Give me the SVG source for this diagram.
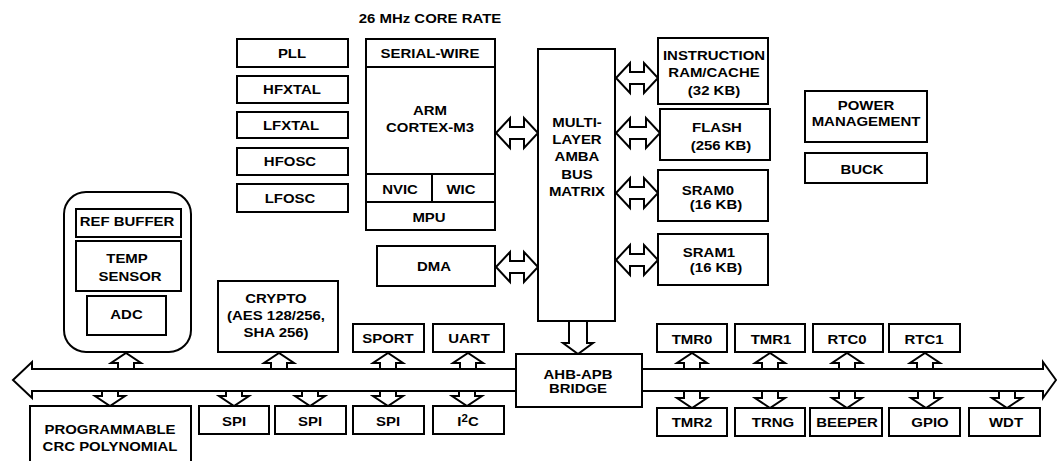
<svg xmlns="http://www.w3.org/2000/svg" width="1057" height="461" viewBox="0 0 1057 461">
<style>
.b{fill:#fff;stroke:#000;stroke-width:2}
.c{fill:#fff;stroke:#000;stroke-width:2;stroke-linejoin:miter}
.o{fill:none;stroke:#000;stroke-width:2;stroke-linejoin:miter}
.t{font-family:"Liberation Sans",Arial,Helvetica,sans-serif;font-weight:bold;font-size:13px;text-anchor:middle;fill:#000}
</style>
<rect x="0" y="0" width="1057" height="461" fill="#fff"/>
<text class="t" transform="translate(430,23) scale(1.15,1)">26 MHz CORE RATE</text>

<g id="connectors">
  <path class="c" d="M496,133 L510,118 L510,127 L524,127 L524,118 L538,133 L524,148 L524,139 L510,139 L510,148 Z"/>
  <path class="c" d="M496,267 L510,252 L510,261 L524,261 L524,252 L538,267 L524,282 L524,273 L510,273 L510,282 Z"/>
  <path class="c" d="M616,78 L630,63 L630,72 L644,72 L644,63 L658,78 L644,93 L644,84 L630,84 L630,93 Z"/>
  <path class="c" d="M616,133 L630,118 L630,127 L646,127 L646,118 L660,133 L646,148 L646,139 L630,139 L630,148 Z"/>
  <path class="c" d="M616,193 L630,178 L630,187 L644,187 L644,178 L658,193 L644,208 L644,199 L630,199 L630,208 Z"/>
  <path class="c" d="M616,260 L630,245 L630,254 L644,254 L644,245 L658,260 L644,275 L644,266 L630,266 L630,275 Z"/>
  <path class="o" d="M569,322 L569,343 L563,343 L578,354 L593,343 L587,343 L587,322"/>
  <!-- bus -->
  <path class="o" d="M516,369 L32,369 L32,362 L13,380 L32,398 L32,391 L516,391"/>
  <path class="o" d="M642,369 L1043,369 L1043,362 L1056,380 L1043,398 L1043,391 L642,391"/>
  <!-- up arrows -->
  <path class="o" d="M118,369 L118,363 L111,363 L126,353 L141,363 L134,363 L134,369"/>
  <path class="o" d="M271,369 L271,363 L264,363 L279,353 L294,363 L287,363 L287,369"/>
  <path class="o" d="M380,369 L380,363 L373,363 L388,353 L403,363 L396,363 L396,369"/>
  <path class="o" d="M460,369 L460,363 L453,363 L468,353 L483,363 L476,363 L476,369"/>
  <path class="o" d="M684,369 L684,363 L677,363 L692,353 L707,363 L700,363 L700,369"/>
  <path class="o" d="M762,369 L762,363 L755,363 L770,353 L785,363 L778,363 L778,369"/>
  <path class="o" d="M839,369 L839,363 L832,363 L847,353 L862,363 L855,363 L855,369"/>
  <path class="o" d="M917,369 L917,363 L910,363 L925,353 L940,363 L933,363 L933,369"/>
  <!-- down arrows -->
  <path class="o" d="M102,391 L102,396 L95,396 L110,406 L125,396 L118,396 L118,391"/>
  <path class="o" d="M226,391 L226,396 L219,396 L234,406 L249,396 L242,396 L242,391"/>
  <path class="o" d="M302,391 L302,396 L295,396 L310,406 L325,396 L318,396 L318,391"/>
  <path class="o" d="M380,391 L380,396 L373,396 L388,406 L403,396 L396,396 L396,391"/>
  <path class="o" d="M459,391 L459,396 L452,396 L467,406 L482,396 L475,396 L475,391"/>
  <path class="o" d="M684,391 L684,398 L677,398 L692,408 L707,398 L700,398 L700,391"/>
  <path class="o" d="M762,391 L762,398 L755,398 L770,408 L785,398 L778,398 L778,391"/>
  <path class="o" d="M839,391 L839,398 L832,398 L847,408 L862,398 L855,398 L855,391"/>
  <path class="o" d="M918,391 L918,398 L911,398 L926,408 L941,398 L934,398 L934,391"/>
  <path class="o" d="M999,391 L999,398 L992,398 L1007,408 L1022,398 L1015,398 L1015,391"/>
</g>

<g id="pll"><rect class="b" x="237" y="39" width="111" height="28"/><text class="t" transform="translate(292,57.5) scale(1.15,1)">PLL</text></g>
<g id="hfxtal"><rect class="b" x="237" y="76" width="111" height="27"/><text class="t" transform="translate(292,94) scale(1.15,1)">HFXTAL</text></g>
<g id="lfxtal"><rect class="b" x="237" y="112" width="111" height="26"/><text class="t" transform="translate(291,129.5) scale(1.15,1)">LFXTAL</text></g>
<g id="hfosc"><rect class="b" x="237" y="148" width="111" height="27"/><text class="t" transform="translate(290,166) scale(1.15,1)">HFOSC</text></g>
<g id="lfosc"><rect class="b" x="237" y="184" width="111" height="28"/><text class="t" transform="translate(290,202.5) scale(1.15,1)">LFOSC</text></g>

<g id="arm">
  <rect class="b" x="366" y="39" width="129" height="191"/>
  <path class="o" d="M366,67 H495 M366,174 H495 M366,202 H495 M432,174 V202"/>
  <text class="t" transform="translate(430,57.5) scale(1.15,1)">SERIAL-WIRE</text>
  <text class="t" transform="translate(430,114.5) scale(1.15,1)"><tspan x="0">ARM</tspan><tspan x="0" dy="18">CORTEX-M3</tspan></text>
  <text class="t" transform="translate(400,193.5) scale(1.15,1)">NVIC</text>
  <text class="t" transform="translate(461,193.5) scale(1.15,1)">WIC</text>
  <text class="t" transform="translate(429,221.5) scale(1.15,1)">MPU</text>
</g>

<g id="dma"><rect class="b" x="377" y="246" width="118" height="40"/><text class="t" transform="translate(434,270.5) scale(1.15,1)">DMA</text></g>

<g id="matrix">
  <rect class="b" x="538" y="49" width="77" height="272"/>
  <text class="t" transform="translate(577,126.5) scale(1.15,1)"><tspan x="0">MULTI-</tspan><tspan x="0" dy="17.5">LAYER</tspan><tspan x="0" dy="17.5">AMBA</tspan><tspan x="0" dy="17.5">BUS</tspan><tspan x="0" dy="17.5">MATRIX</tspan></text>
</g>

<g id="instr"><rect class="b" x="658" y="38" width="110" height="66"/><text class="t" transform="translate(714,59.5) scale(1.15,1)"><tspan x="0">INSTRUCTION</tspan><tspan x="0" dy="18">RAM/CACHE</tspan><tspan x="0" dy="18">(32 KB)</tspan></text></g>
<g id="flash"><rect class="b" x="660" y="109" width="110" height="51"/><text class="t" transform="translate(717,131.5) scale(1.15,1)">FLASH</text><text class="t" transform="translate(721,149.5) scale(1.15,1)">(256 KB)</text></g>
<g id="sram0"><rect class="b" x="658" y="170" width="110" height="51"/><text class="t" transform="translate(708,194.5) scale(1.15,1)">SRAM0</text><text class="t" transform="translate(716,209) scale(1.15,1)">(16 KB)</text></g>
<g id="sram1"><rect class="b" x="658" y="234" width="110" height="51"/><text class="t" transform="translate(709,256.5) scale(1.15,1)">SRAM1</text><text class="t" transform="translate(716,271.5) scale(1.15,1)">(16 KB)</text></g>

<g id="power"><rect class="b" x="805" y="91" width="122" height="51"/><text class="t" transform="translate(866,109.5) scale(1.15,1)"><tspan x="0">POWER</tspan><tspan x="0" dy="17">MANAGEMENT</tspan></text></g>
<g id="buck"><rect class="b" x="805" y="153" width="122" height="30"/><text class="t" transform="translate(862,173.5) scale(1.15,1)">BUCK</text></g>

<g id="adcgroup">
  <rect class="b" x="64" y="192" width="127" height="160" rx="22" ry="22"/>
  <rect class="b" x="76" y="209" width="105" height="28"/>
  <text class="t" transform="translate(127,225.5) scale(1.15,1)">REF BUFFER</text>
  <rect class="b" x="76" y="241" width="105" height="50"/>
  <text class="t" transform="translate(127,262.5) scale(1.15,1)">TEMP</text>
  <text class="t" transform="translate(130,280.5) scale(1.15,1)">SENSOR</text>
  <rect class="b" x="87" y="296" width="79" height="39"/>
  <text class="t" transform="translate(126.5,318.5) scale(1.15,1)">ADC</text>
</g>

<g id="crypto"><rect class="b" x="218" y="281" width="120" height="71"/><text class="t" transform="translate(276,302.5) scale(1.15,1)"><tspan x="0">CRYPTO</tspan><tspan x="0" dy="17.5">(AES 128/256,</tspan><tspan x="0" dy="17.5">SHA 256)</tspan></text></g>
<g id="sport"><rect class="b" x="353" y="324" width="71" height="28"/><text class="t" transform="translate(388,342.5) scale(1.15,1)">SPORT</text></g>
<g id="uart"><rect class="b" x="433" y="324" width="71" height="28"/><text class="t" transform="translate(469,342.5) scale(1.15,1)">UART</text></g>

<g id="bridge"><rect class="b" x="516" y="354" width="126" height="53"/><text class="t" transform="translate(578,378.5) scale(1.15,1)"><tspan x="0">AHB-APB</tspan><tspan x="0" dy="15">BRIDGE</tspan></text></g>

<g id="tmr0"><rect class="b" x="657" y="324" width="70" height="28"/><text class="t" transform="translate(692,343.5) scale(1.15,1)">TMR0</text></g>
<g id="tmr1"><rect class="b" x="735" y="324" width="70" height="28"/><text class="t" transform="translate(771,343.5) scale(1.15,1)">TMR1</text></g>
<g id="rtc0"><rect class="b" x="813" y="324" width="70" height="28"/><text class="t" transform="translate(847,343.5) scale(1.15,1)">RTC0</text></g>
<g id="rtc1"><rect class="b" x="889" y="324" width="71" height="28"/><text class="t" transform="translate(924,343.5) scale(1.15,1)">RTC1</text></g>

<g id="crc"><rect class="b" x="30" y="406" width="161" height="70"/><text class="t" transform="translate(110,433.5) scale(1.15,1)"><tspan x="0">PROGRAMMABLE</tspan><tspan x="0" dy="18">CRC POLYNOMIAL</tspan></text></g>
<g id="spi1"><rect class="b" x="199" y="406" width="70" height="28"/><text class="t" transform="translate(234,425.5) scale(1.15,1)">SPI</text></g>
<g id="spi2"><rect class="b" x="275" y="406" width="71" height="28"/><text class="t" transform="translate(310,425.5) scale(1.15,1)">SPI</text></g>
<g id="spi3"><rect class="b" x="353" y="406" width="71" height="28"/><text class="t" transform="translate(388,425.5) scale(1.15,1)">SPI</text></g>
<g id="i2c"><rect class="b" x="433" y="406" width="71" height="28"/><text class="t" transform="translate(468,425.5) scale(1.15,1)">I<tspan font-size="10px" dy="-4">2</tspan><tspan dy="4">C</tspan></text></g>

<g id="tmr2"><rect class="b" x="657" y="408" width="70" height="28"/><text class="t" transform="translate(692,426.5) scale(1.15,1)">TMR2</text></g>
<g id="trng"><rect class="b" x="735" y="408" width="70" height="28"/><text class="t" transform="translate(773,426.5) scale(1.15,1)">TRNG</text></g>
<g id="beeper"><rect class="b" x="810" y="408" width="72" height="28"/><text class="t" transform="translate(847,426.5) scale(1.15,1)">BEEPER</text></g>
<g id="gpio"><rect class="b" x="889" y="408" width="71" height="28"/><text class="t" transform="translate(930,426.5) scale(1.15,1)">GPIO</text></g>
<g id="wdt"><rect class="b" x="969" y="408" width="71" height="28"/><text class="t" transform="translate(1006,426.5) scale(1.15,1)">WDT</text></g>
</svg>
